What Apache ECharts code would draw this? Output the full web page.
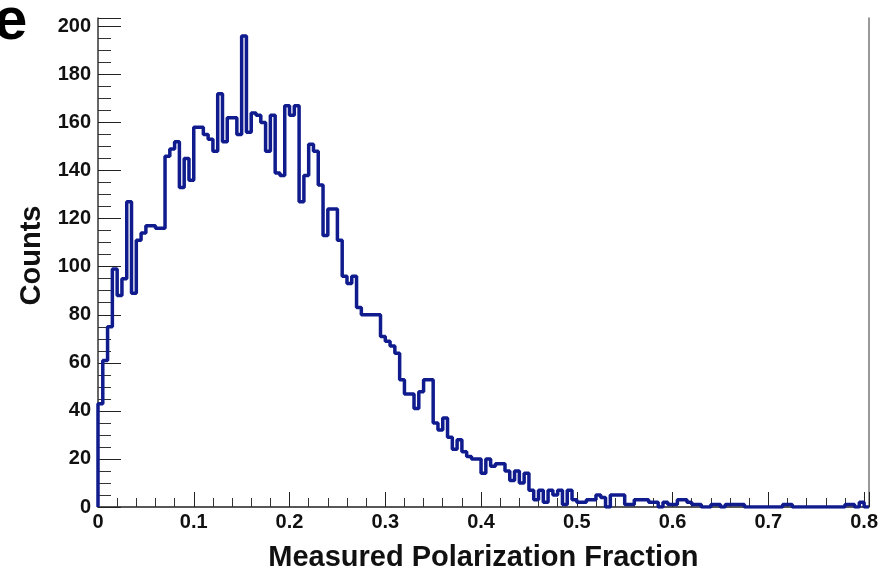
<!DOCTYPE html>
<html><head><meta charset="utf-8">
<script src="https://cdn.jsdelivr.net/npm/echarts@6/dist/echarts.min.js"></script>
<style>html,body{margin:0;padding:0;background:#fff}#c{width:881px;height:577px}</style>
</head><body><div id="c"></div>
<script>
// Histogram: bin width and counts per bin (bin k spans [k*binWidth, (k+1)*binWidth])
const binWidth = 0.005;
const counts = [
  43, 61, 75, 99, 88, 95, 127, 89, 111, 114,
  117, 117, 116, 116, 146, 149, 152, 133, 145, 136,
  158, 158, 155, 153, 148, 172, 152, 162, 162, 155,
  196, 156, 164, 163, 160, 148, 163, 139, 138, 167,
  163, 167, 127, 138, 151, 148, 134, 113, 124, 124,
  111, 96, 93, 96, 83, 80, 80, 80, 80, 71,
  69, 67, 64, 53, 47, 47, 41, 48, 53, 53,
  35, 32, 37, 29, 24, 28, 23, 21, 20, 20,
  14, 20, 17, 18, 18, 15, 11, 15, 10, 14,
  7, 3, 7, 2, 7, 5, 7, 1, 7, 3,
  2, 2, 3, 3, 5, 4, 0, 5, 5, 5,
  1, 1, 3, 3, 3, 2, 2, 0, 2, 1,
  1, 3, 3, 2, 1, 1, 0, 0, 1, 1,
  0, 1, 1, 1, 1, 0, 0, 0, 0, 0,
  0, 0, 0, 1, 1, 0, 0, 0, 0, 0,
  0, 0, 0, 0, 0, 0, 1, 1, 0, 2,
  0
];
const xTickLabels = ['0', '0.1', '0.2', '0.3', '0.4', '0.5', '0.6', '0.7', '0.8'];
const yTickLabels = ['0', '20', '40', '60', '80', '100', '120', '140', '160', '180', '200'];
const xTitle = 'Measured Polarization Fraction';
const yTitle = 'Counts';
const panelLabel = 'e';

const xMax = 0.805, yMax = 203.5;

const pts = [[0, 0]];
counts.forEach((c, k) => pts.push([+(k * binWidth).toFixed(4), c]));
pts.push([+(counts.length * binWidth).toFixed(4), counts[counts.length - 1]]);

const fontFam = '"Liberation Sans", Arial, Helvetica, sans-serif';

const chart = echarts.init(document.getElementById('c'), null, {renderer: 'canvas'});
chart.setOption({
  animation: false,
  backgroundColor: '#fff',
  grid: {left: 98, right: 10, top: 18, bottom: 64, containLabel: false},
  xAxis: {
    type: 'value', min: 0, max: xMax, interval: 0.1,
    name: xTitle, nameLocation: 'middle', nameGap: 36,
    nameTextStyle: {fontFamily: fontFam, fontWeight: 'bold', fontSize: 29, color: '#111'},
    axisLine: {show: true, onZero: false, lineStyle: {color: '#222', width: 1.5}},
    axisTick: {show: true, inside: true, length: 15, lineStyle: {color: '#222', width: 1}},
    minorTick: {show: true, splitNumber: 5, length: 9, lineStyle: {color: '#333', width: 1}},
    splitLine: {show: false},
    axisLabel: {
      margin: 5, fontFamily: fontFam, fontWeight: 'bold', fontSize: 20, color: '#111',
      showMaxLabel: true,
      formatter: v => {
        const r = Math.round(v * 10);
        return Math.abs(v * 10 - r) < 1e-6 && r <= 8 ? xTickLabels[r] : '';
      }
    }
  },
  yAxis: [{
    type: 'value', min: 0, max: yMax, interval: 20,
    name: yTitle, nameLocation: 'middle', nameGap: 52, nameRotate: 90,
    nameTextStyle: {fontFamily: fontFam, fontWeight: 'bold', fontSize: 29, color: '#111', padding: [0, 0, 0, 14]},
    axisLine: {show: true, lineStyle: {color: '#333', width: 1.5}},
    axisTick: {show: true, inside: true, length: 23, lineStyle: {color: '#222', width: 1}},
    minorTick: {show: true, splitNumber: 4, length: 13, lineStyle: {color: '#333', width: 1}},
    splitLine: {show: false},
    axisLabel: {
      margin: 7, fontFamily: fontFam, fontWeight: 'bold', fontSize: 20, color: '#111',
      formatter: v => {
        const r = Math.round(v / 20);
        return Math.abs(v / 20 - r) < 1e-6 && r <= 10 ? yTickLabels[r] : '';
      }
    }
  }, {
    type: 'value', min: 0, max: yMax, position: 'right',
    axisLine: {show: true, lineStyle: {color: '#777', width: 1.5}},
    axisTick: {show: false}, axisLabel: {show: false}, splitLine: {show: false}
  }],
  graphic: [{
    type: 'text', left: -6, top: -8,
    style: {text: panelLabel, fontFamily: fontFam, fontWeight: 'bold', fontSize: 60, fill: '#000'}
  }],
  series: [{
    type: 'line', step: 'end', data: pts, symbol: 'none',
    lineStyle: {color: '#101c8e', width: 3.5},
    clip: true
  }]
});
</script>
</body></html>
